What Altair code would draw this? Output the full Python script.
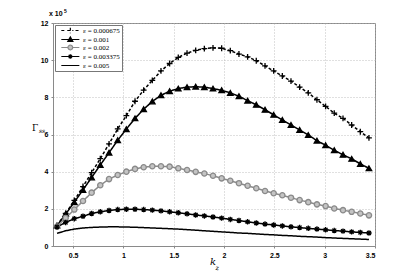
import altair as alt
import pandas as pd

kz = [0.34, 0.426, 0.512, 0.598, 0.684, 0.77, 0.857, 0.943, 1.029, 1.115,
      1.201, 1.287, 1.373, 1.459, 1.545, 1.632, 1.718, 1.804, 1.89, 1.976,
      2.062, 2.148, 2.234, 2.32, 2.407, 2.493, 2.579, 2.665, 2.751, 2.837,
      2.923, 3.009, 3.095, 3.182, 3.268, 3.354, 3.44]

labels = ["ε = 0.000675", "ε = 0.001", "ε = 0.002", "ε = 0.003375", "ε = 0.005"]

g1 = [1.1, 1.75, 2.45, 3.2, 3.95, 4.7, 5.5, 6.3, 7.02, 7.79,
      8.39, 8.91, 9.42, 9.82, 10.15, 10.38, 10.53, 10.62, 10.66, 10.64,
      10.51, 10.33, 10.18, 9.97, 9.69, 9.42, 9.15, 8.87, 8.55, 8.24,
      7.87, 7.51, 7.15, 6.87, 6.51, 6.15, 5.82]
g2 = [1.1, 1.72, 2.36, 3.02, 3.69, 4.36, 5.02, 5.69, 6.29, 6.87,
      7.36, 7.78, 8.11, 8.33, 8.47, 8.55, 8.57, 8.55, 8.47, 8.38,
      8.24, 8.06, 7.82, 7.6, 7.33, 7.06, 6.78, 6.51, 6.24, 5.97,
      5.67, 5.42, 5.15, 4.91, 4.69, 4.42, 4.18]
g3 = [1.05, 1.51, 1.96, 2.42, 2.87, 3.27, 3.6, 3.82, 4.0, 4.15,
      4.24, 4.29, 4.29, 4.27, 4.18, 4.09, 3.99, 3.9, 3.78, 3.64,
      3.51, 3.38, 3.24, 3.11, 2.96, 2.84, 2.73, 2.6, 2.47, 2.36,
      2.24, 2.15, 2.02, 1.93, 1.84, 1.75, 1.65]
g4 = [1.02, 1.27, 1.47, 1.6, 1.75, 1.84, 1.91, 1.96, 1.98, 1.98,
      1.96, 1.93, 1.89, 1.84, 1.79, 1.73, 1.67, 1.62, 1.56, 1.5,
      1.43, 1.37, 1.3, 1.24, 1.18, 1.13, 1.08, 1.03, 0.99, 0.95,
      0.91, 0.87, 0.83, 0.8, 0.76, 0.73, 0.7]
g5 = [0.68, 0.82, 0.91, 0.97, 1.0, 1.02, 1.03, 1.03, 1.02, 1.01,
      0.99, 0.97, 0.95, 0.93, 0.91, 0.88, 0.85, 0.82, 0.79, 0.76,
      0.73, 0.7, 0.68, 0.65, 0.62, 0.6, 0.57, 0.55, 0.52, 0.5,
      0.48, 0.45, 0.43, 0.41, 0.39, 0.37, 0.35]

series = [g1, g2, g3, g4, g5]
rows = []
for lab, vals in zip(labels, series):
    for k, v in zip(kz, vals):
        rows.append({"kz": k, "G": v, "eps": lab})
df = pd.DataFrame(rows)

PLUS = "M-1,0L1,0M0,-1L0,1"
STAR = "M-1,0L1,0M0,-1L0,1M-0.72,-0.72L0.72,0.72M-0.72,0.72L0.72,-0.72"
strokes = ["black", "black", "#8a8a8a", "black", "black"]
fills = ["transparent", "black", "#c4c4c4", "transparent", "transparent"]
dashes = [[3, 2], [1, 0], [1, 0], [1, 0], [1, 0]]

# legend symbols: a line sample with the marker in its middle
LINE = "M-1.5,0L7,0"
leg_paths = [
    "M-1.5,0L0.3,0M1.3,0L4.2,0M5.2,0L7,0M2.75,-1.3L2.75,1.3",
    LINE + "M2.75,-1.2L3.95,0.9L1.55,0.9Z",
    "M-1.5,0L1.65,0M3.85,0L7,0M1.65,0A1.1,1.1 0 1,0 3.85,0A1.1,1.1 0 1,0 1.65,0Z",
    LINE + "M2.75,-1.1L2.75,1.1M1.95,-0.8L3.55,0.8M1.95,0.8L3.55,-0.8",
    LINE,
]

W, H = 322, 223

xs = alt.X("kz:Q", scale=alt.Scale(domain=[0.3, 3.5], nice=False, zero=False),
           axis=alt.Axis(values=[0.5, 1, 1.5, 2, 2.5, 3, 3.5], format="~g",
                         title=None, labelPadding=3))
ys = alt.Y("G:Q", scale=alt.Scale(domain=[0, 12], nice=False),
           axis=alt.Axis(values=[0, 2, 4, 6, 8, 10, 12], title=None, labelPadding=3))

legend = alt.Legend(title=None, orient="top-left", offset=2, padding=2,
                    fillColor="white", strokeColor="#777777",
                    labelFont="Liberation Serif", labelFontSize=7, labelColor="black",
                    symbolSize=18, symbolStrokeWidth=1.2, rowPadding=-2.5,
                    labelOffset=15, symbolOffset=4)

stroke_enc = alt.Stroke("eps:N", scale=alt.Scale(domain=labels, range=strokes), legend=legend)

lines = alt.Chart(df).mark_line(strokeWidth=1.5).encode(
    x=xs, y=ys,
    stroke=stroke_enc,
    strokeDash=alt.StrokeDash("eps:N", scale=alt.Scale(domain=labels, range=dashes), legend=None),
    detail="eps:N",
)

# legend-only layer (no rows pass the filter): defines the legend symbols
legend_layer = alt.Chart(df).transform_filter(alt.datum.G < -100).mark_point(
    opacity=1, strokeWidth=1.2).encode(
    x=xs, y=ys,
    stroke=stroke_enc,
    fill=alt.Fill("eps:N", scale=alt.Scale(domain=labels, range=fills), legend=legend),
    shape=alt.Shape("eps:N", scale=alt.Scale(domain=labels, range=leg_paths), legend=legend),
)

marker_style = [
    dict(shape=PLUS, stroke="black", fill="transparent", size=34),
    dict(shape="triangle-up", stroke="black", fill="black", size=30),
    dict(shape="circle", stroke="#8a8a8a", fill="#c4c4c4", size=28),
    dict(shape=STAR, stroke="black", fill="transparent", size=30),
]
point_layers = []
for lab, st in zip(labels[:4], marker_style):
    point_layers.append(
        alt.Chart(df).transform_filter(alt.datum.eps == lab).mark_point(
            opacity=1, strokeWidth=1.3, filled=False, **st).encode(x=xs, y=ys)
    )

ann = pd.DataFrame({"t": ["x"]})
def txt(s, x, y, size, font="Liberation Sans", style="normal", weight="normal", align="left"):
    return alt.Chart(ann).mark_text(text=s, fontSize=size, font=font, fontStyle=style,
                                    fontWeight=weight, align=align, baseline="middle",
                                    color="black").encode(x=alt.value(x), y=alt.value(y))

texts = [
    txt("x 10", -4, -9, 7, weight="bold"),
    txt("5", 11, -12.5, 5, weight="bold"),
    txt("Γ", -21, 105, 9, font="DejaVu Serif"),
    txt("ss", -14, 108, 6, font="DejaVu Serif", style="italic"),
    txt("k", 157, 238.5, 10, font="DejaVu Serif", style="italic"),
    txt("z", 162.5, 245, 6.5, font="DejaVu Serif", style="italic"),
]

chart = alt.layer(lines, *point_layers, legend_layer, *texts).properties(
    width=W, height=H,
    autosize=alt.AutoSizeParams(type="none"),
    padding={"left": 45, "top": 15, "right": 30, "bottom": 30},
).configure_view(stroke="#8a8a8a", strokeWidth=1).configure_axis(
    labelFont="Liberation Sans", labelFontSize=7, labelFontWeight="bold",
    labelColor="black", domainColor="#8a8a8a", domainWidth=1,
    gridColor="#b0b0b0", gridDash=[1, 2], gridWidth=0.8,
    tickColor="#8a8a8a", tickSize=2,
)

chart.save("out.html", embed_options={"renderer": "svg", "actions": False})
